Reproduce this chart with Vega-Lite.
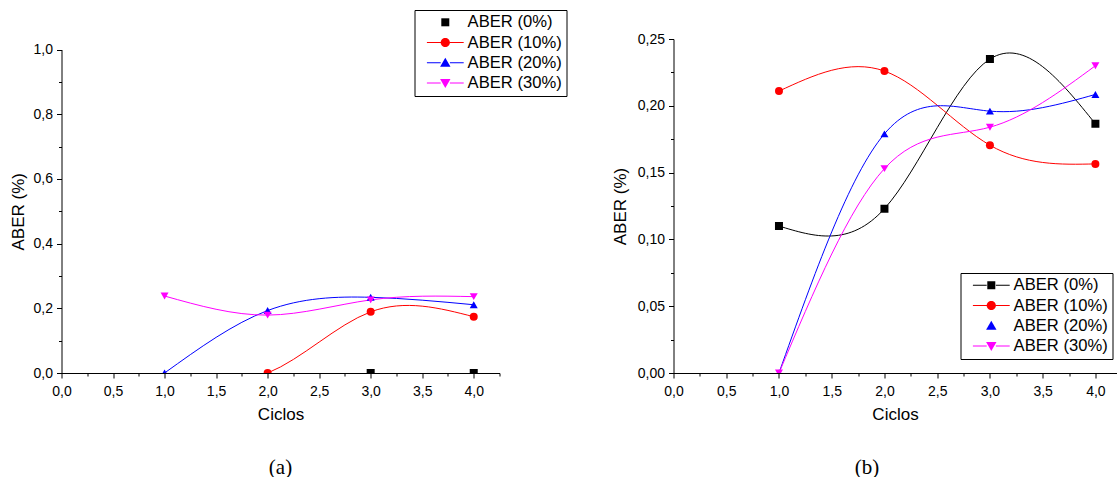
{
  "$schema": "https://vega.github.io/schema/vega-lite/v6.json",
  "background": "white",
  "padding": {"left": 8.5, "top": 9, "right": 0, "bottom": 0},
  "bounds": "flush",
  "spacing": 174,
  "resolve": {"scale": {"color": "independent", "shape": "independent", "x": "independent", "y": "independent"}},
  "datasets": {
    "a": [
      {"ciclo": 3, "aber": 0, "serie": "ABER (0%)"},
      {"ciclo": 4, "aber": 0, "serie": "ABER (0%)"},
      {"ciclo": 1, "aber": 0, "serie": "ABER (10%)"},
      {"ciclo": 2, "aber": 0, "serie": "ABER (10%)"},
      {"ciclo": 3, "aber": 0.189, "serie": "ABER (10%)"},
      {"ciclo": 4, "aber": 0.174, "serie": "ABER (10%)"},
      {"ciclo": 1, "aber": 0, "serie": "ABER (20%)"},
      {"ciclo": 2, "aber": 0.193, "serie": "ABER (20%)"},
      {"ciclo": 3, "aber": 0.234, "serie": "ABER (20%)"},
      {"ciclo": 4, "aber": 0.211, "serie": "ABER (20%)"},
      {"ciclo": 1, "aber": 0.238, "serie": "ABER (30%)"},
      {"ciclo": 2, "aber": 0.179, "serie": "ABER (30%)"},
      {"ciclo": 3, "aber": 0.226, "serie": "ABER (30%)"},
      {"ciclo": 4, "aber": 0.236, "serie": "ABER (30%)"}
    ],
    "b": [
      {"ciclo": 1, "aber": 0.110, "serie": "ABER (0%)"},
      {"ciclo": 2, "aber": 0.123, "serie": "ABER (0%)"},
      {"ciclo": 3, "aber": 0.235, "serie": "ABER (0%)"},
      {"ciclo": 4, "aber": 0.1865, "serie": "ABER (0%)"},
      {"ciclo": 1, "aber": 0.211, "serie": "ABER (10%)"},
      {"ciclo": 2, "aber": 0.226, "serie": "ABER (10%)"},
      {"ciclo": 3, "aber": 0.1705, "serie": "ABER (10%)"},
      {"ciclo": 4, "aber": 0.1565, "serie": "ABER (10%)"},
      {"ciclo": 1, "aber": 0, "serie": "ABER (20%)"},
      {"ciclo": 2, "aber": 0.179, "serie": "ABER (20%)"},
      {"ciclo": 3, "aber": 0.196, "serie": "ABER (20%)"},
      {"ciclo": 4, "aber": 0.2085, "serie": "ABER (20%)"},
      {"ciclo": 1, "aber": 0, "serie": "ABER (30%)"},
      {"ciclo": 2, "aber": 0.153, "serie": "ABER (30%)"},
      {"ciclo": 3, "aber": 0.184, "serie": "ABER (30%)"},
      {"ciclo": 4, "aber": 0.230, "serie": "ABER (30%)"}
    ]
  },
  "hconcat": [
    {
      "width": 438,
      "height": 334,
      "data": {"name": "a"},
      "title": {"text": "(a)", "orient": "bottom", "anchor": "middle", "font": "Liberation Serif", "fontSize": 21, "fontWeight": "normal", "color": "black", "offset": 35, "dx": 0},
      "encoding": {
        "x": {
          "field": "ciclo", "type": "quantitative", "title": "Ciclos",
          "scale": {"domain": [0, 4.25], "nice": false, "zero": false},
          "axis": {
            "values": [0, 0.25, 0.5, 0.75, 1, 1.25, 1.5, 1.75, 2, 2.25, 2.5, 2.75, 3, 3.25, 3.5, 3.75, 4, 4.25],
            "labelExpr": "abs(datum.value*2-round(datum.value*2))<0.001 ? replace(format(datum.value,'.1f'),'.',',') : ''",
            "tickSize": {"condition": {"test": "abs(datum.value*2-round(datum.value*2))<0.001", "value": 5}, "value": 3},
            "labelPadding": 6.5, "titlePadding": 7.5
          }
        },
        "y": {
          "field": "aber", "type": "quantitative", "title": "ABER (%)",
          "scale": {"domain": [0, 1], "nice": false, "zero": false, "range": [334, 10.5]},
          "axis": {
            "values": [0, 0.1, 0.2, 0.3, 0.4, 0.5, 0.6, 0.7, 0.8, 0.9, 1],
            "labelExpr": "abs(datum.value*5-round(datum.value*5))<0.001 ? replace(format(datum.value,'.1f'),'.',',') : ''",
            "tickSize": {"condition": {"test": "abs(datum.value*5-round(datum.value*5))<0.001", "value": 5}, "value": 3},
            "labelPadding": 4, "titlePadding": 6
          }
        }
      },
      "layer": [
        {
          "transform": [{"filter": "datum.serie != 'ABER (0%)'"}],
          "mark": {"type": "line", "interpolate": "natural", "strokeWidth": 1, "clip": true},
          "encoding": {
            "color": {"field": "serie", "type": "nominal", "scale": {"domain": ["ABER (0%)", "ABER (10%)", "ABER (20%)", "ABER (30%)"], "range": ["#000000", "#ff0000", "#0000ff", "#ff00ff"]}, "legend": null}
          }
        },
        {
          "transform": [{"filter": "!(datum.serie == 'ABER (10%)' && datum.ciclo == 1)"}],
          "mark": {"type": "point", "filled": true, "size": 64, "opacity": 1, "clip": true},
          "encoding": {
            "color": {"field": "serie", "type": "nominal", "scale": {"domain": ["ABER (0%)", "ABER (10%)", "ABER (20%)", "ABER (30%)"], "range": ["#000000", "#ff0000", "#0000ff", "#ff00ff"]}, "legend": null},
            "shape": {"field": "serie", "type": "nominal", "scale": {"domain": ["ABER (0%)", "ABER (10%)", "ABER (20%)", "ABER (30%)"], "range": ["square", "circle", "triangle-up", "triangle-down"]}, "legend": null}
          }
        },
        {
          "mark": {"type": "point", "filled": true, "size": 64, "opacity": 0},
          "encoding": {
            "color": {"field": "serie", "type": "nominal", "scale": {"domain": ["ABER (0%)", "ABER (10%)", "ABER (20%)", "ABER (30%)"], "range": ["#000000", "#ff0000", "#0000ff", "#ff00ff"]}, "legend": {"orient": "none", "legendX": 353, "legendY": -29, "title": null}},
            "shape": {"field": "serie", "type": "nominal", "scale": {"domain": ["ABER (0%)", "ABER (10%)", "ABER (20%)", "ABER (30%)"], "range": [
              "M-1,-1L1,-1L1,1L-1,1Z",
              "M-1.15,0A1.15,1.15,0,1,1,1.15,0A1.15,1.15,0,1,1,-1.15,0ZM-4.6,-0.13L-1.15,-0.13L-1.15,0.13L-4.6,0.13ZM1.15,-0.13L4.6,-0.13L4.6,0.13L1.15,0.13Z",
              "M0,-1.25L1.3,1L-1.3,1ZM-4.6,-0.13L-1.15,-0.13L-1.15,0.13L-4.6,0.13ZM1.15,-0.13L4.6,-0.13L4.6,0.13L1.15,0.13Z",
              "M0,1.25L-1.3,-1L1.3,-1ZM-4.6,-0.13L-1.15,-0.13L-1.15,0.13L-4.6,0.13ZM1.15,-0.13L4.6,-0.13L4.6,0.13L1.15,0.13Z"
            ]}, "legend": {"orient": "none", "legendX": 353, "legendY": -29, "title": null}}
          }
        }
      ],
      "resolve": {"scale": {"color": "independent", "shape": "independent"}}
    },
    {
      "width": 443,
      "height": 334,
      "data": {"name": "b"},
      "title": {"text": "(b)", "orient": "bottom", "anchor": "middle", "font": "Liberation Serif", "fontSize": 21, "fontWeight": "normal", "color": "black", "offset": 35, "dx": -28},
      "encoding": {
        "x": {
          "field": "ciclo", "type": "quantitative", "title": "Ciclos",
          "scale": {"domain": [0, 4.2], "nice": false, "zero": false},
          "axis": {
            "values": [0, 0.25, 0.5, 0.75, 1, 1.25, 1.5, 1.75, 2, 2.25, 2.5, 2.75, 3, 3.25, 3.5, 3.75, 4],
            "labelExpr": "abs(datum.value*2-round(datum.value*2))<0.001 ? replace(format(datum.value,'.1f'),'.',',') : ''",
            "tickSize": {"condition": {"test": "abs(datum.value*2-round(datum.value*2))<0.001", "value": 5}, "value": 3},
            "labelPadding": 6.5, "titlePadding": 7.5
          }
        },
        "y": {
          "field": "aber", "type": "quantitative", "title": "ABER (%)",
          "scale": {"domain": [0, 0.25], "nice": false, "zero": false},
          "axis": {
            "values": [0, 0.025, 0.05, 0.075, 0.1, 0.125, 0.15, 0.175, 0.2, 0.225, 0.25],
            "labelExpr": "abs(datum.value*20-round(datum.value*20))<0.001 ? replace(format(datum.value,'.2f'),'.',',') : ''",
            "tickSize": {"condition": {"test": "abs(datum.value*20-round(datum.value*20))<0.001", "value": 5}, "value": 3},
            "labelPadding": 4, "titlePadding": 8
          }
        }
      },
      "layer": [
        {
          "mark": {"type": "line", "interpolate": "natural", "strokeWidth": 1, "clip": true},
          "encoding": {
            "color": {"field": "serie", "type": "nominal", "scale": {"domain": ["ABER (0%)", "ABER (10%)", "ABER (20%)", "ABER (30%)"], "range": ["#000000", "#ff0000", "#0000ff", "#ff00ff"]}, "legend": null}
          }
        },
        {
          "mark": {"type": "point", "filled": true, "size": 64, "opacity": 1, "clip": true},
          "encoding": {
            "color": {"field": "serie", "type": "nominal", "scale": {"domain": ["ABER (0%)", "ABER (10%)", "ABER (20%)", "ABER (30%)"], "range": ["#000000", "#ff0000", "#0000ff", "#ff00ff"]}, "legend": null},
            "shape": {"field": "serie", "type": "nominal", "scale": {"domain": ["ABER (0%)", "ABER (10%)", "ABER (20%)", "ABER (30%)"], "range": ["square", "circle", "triangle-up", "triangle-down"]}, "legend": null}
          }
        },
        {
          "mark": {"type": "point", "filled": true, "size": 64, "opacity": 0},
          "encoding": {
            "color": {"field": "serie", "type": "nominal", "scale": {"domain": ["ABER (0%)", "ABER (10%)", "ABER (20%)", "ABER (30%)"], "range": ["#000000", "#ff0000", "#0000ff", "#ff00ff"]}, "legend": {"orient": "none", "legendX": 287, "legendY": 234, "title": null}},
            "shape": {"field": "serie", "type": "nominal", "scale": {"domain": ["ABER (0%)", "ABER (10%)", "ABER (20%)", "ABER (30%)"], "range": [
              "M-1,-1L1,-1L1,1L-1,1ZM-4.6,-0.13L-1.15,-0.13L-1.15,0.13L-4.6,0.13ZM1.15,-0.13L4.6,-0.13L4.6,0.13L1.15,0.13Z",
              "M-1.15,0A1.15,1.15,0,1,1,1.15,0A1.15,1.15,0,1,1,-1.15,0ZM-4.6,-0.13L-1.15,-0.13L-1.15,0.13L-4.6,0.13ZM1.15,-0.13L4.6,-0.13L4.6,0.13L1.15,0.13Z",
              "M0,-1.25L1.3,1L-1.3,1Z",
              "M0,1.25L-1.3,-1L1.3,-1ZM-4.6,-0.13L-1.15,-0.13L-1.15,0.13L-4.6,0.13ZM1.15,-0.13L4.6,-0.13L4.6,0.13L1.15,0.13Z"
            ]}, "legend": {"orient": "none", "legendX": 287, "legendY": 234, "title": null}}
          }
        }
      ],
      "resolve": {"scale": {"color": "independent", "shape": "independent"}}
    }
  ],
  "config": {
    "view": {"stroke": null},
    "font": "Liberation Sans",
    "axis": {
      "grid": false,
      "domainColor": "#000000", "domainWidth": 1,
      "tickColor": "#000000", "tickWidth": 1,
      "labelColor": "#000000", "labelFont": "Liberation Sans", "labelFontSize": 14,
      "labelOverlap": false, "labelFlush": false, "labelBound": false,
      "titleColor": "#000000", "titleFont": "Liberation Sans", "titleFontSize": 17, "titleFontWeight": "normal"
    },
    "legend": {
      "labelFont": "Liberation Sans", "labelFontSize": 16.6, "labelColor": "#000000", "labelLimit": 400,
      "strokeColor": "#000000", "fillColor": "#ffffff", "padding": 4, "rowPadding": 3.2,
      "symbolOffset": 18.5, "labelOffset": 14, "symbolSize": 64, "symbolOpacity": 1, "symbolStrokeWidth": 0
    }
  }
}
